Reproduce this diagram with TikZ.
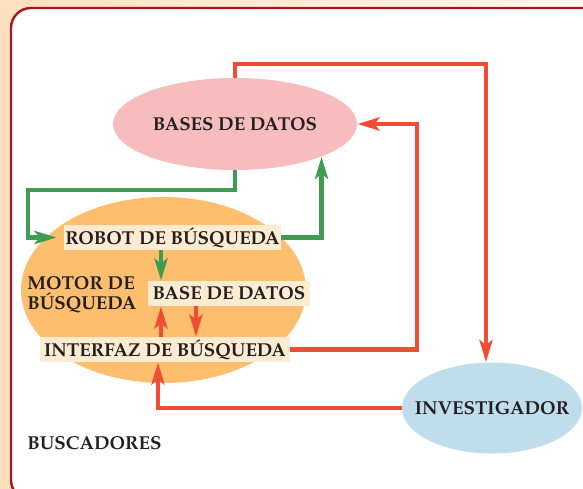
\documentclass[tikz,border=0pt]{standalone}
\usepackage{fontspec}
\setmainfont{texgyrepagella}[Extension=.otf,UprightFont=*-regular,BoldFont=*-bold]
\usetikzlibrary{shapes.geometric,arrows.meta}
\definecolor{bgleft}{RGB}{253,224,190}
\definecolor{bgright}{RGB}{255,248,240}
\definecolor{frame}{RGB}{163,25,30}
\definecolor{pinkfill}{RGB}{247,188,190}
\definecolor{motorfill}{RGB}{253,190,110}
\definecolor{bluefill}{RGB}{191,221,234}
\definecolor{boxfill}{RGB}{253,235,210}
\definecolor{redarrow}{RGB}{239,77,53}
\definecolor{greenarrow}{RGB}{63,156,82}
\definecolor{ink}{RGB}{35,31,32}

\begin{document}
\begin{tikzpicture}[x=0.5pt,y=-0.5pt,
  lbl/.style={font=\fontsize{9.35}{10}\selectfont\bfseries,text=ink},
  elli/.style={ellipse,inner sep=0pt,lbl},
  box/.style={fill=boxfill,inner sep=0pt,minimum height=12.5pt,lbl},
  red link/.style={line width=2.2pt,draw=redarrow,-{Stealth[length=11pt,width=6.5pt,inset=2.5pt]}},
  green link/.style={line width=2.2pt,draw=greenarrow,-{Stealth[length=11pt,width=6.5pt,inset=2.5pt]}}]
  \useasboundingbox (0,0) rectangle (583,488);
  \shade[left color=bgleft,right color=bgright] (0,0) rectangle (583,488);
  \draw[line width=1.2pt,draw=frame,fill=white,rounded corners=10pt] (11,8) rectangle (640,500);

  % ellipses
  \node[elli,fill=pinkfill,minimum width=122pt,minimum height=46pt] (bases) at (235,124) {};
  \node[lbl] (basestxt) at (bases) {BASES DE DATOS};
  \node[elli,fill=motorfill,minimum width=142.5pt,minimum height=93pt] (motor) at (163.5,290) {};
  \node[elli,fill=bluefill,minimum width=90pt,minimum height=45.5pt] (inv) at (492,408) {};
  \node[lbl] (invtxt) at (inv) {INVESTIGADOR};

  % boxes inside the motor
  \node[box,minimum width=108.5pt] (robot) at (172.5,237.5) {ROBOT DE BÚSQUEDA};
  \node[box,minimum width=81pt] (basedatos) at (229,293.5) {BASE DE DATOS};
  \node[box,minimum width=125pt] (interfaz) at (165,349.5) {INTERFAZ DE BÚSQUEDA};
  \node[lbl,anchor=west,align=left,inner sep=0pt] (motortxt) at (27,295) {MOTOR DE\\BÚSQUEDA};
  \node[lbl,anchor=west,inner sep=0pt] (buscadores) at (27,443) {BUSCADORES};

  \coordinate (gleft) at (28,190);
  \coordinate (rtop) at (300,64);
  \coordinate (rright) at (417,0);
  \coordinate (cl) at (161,0);
  \coordinate (cr) at (196,0);

  % green links
  \draw[green link,shorten >=3.5pt] (bases.south) |- (gleft) |- (robot.west);
  \draw[green link] (robot.east) -| (bases.south east);
  \draw[green link] (cl |- robot.south) -- (cl |- basedatos.north);

  % red links
  \draw[red link] (cr |- basedatos.south) -- (cr |- interfaz.north);
  \draw[red link] (cl |- interfaz.north) -- (cl |- basedatos.south);
  \draw[red link] (interfaz.east) -| (rright |- bases.east) -- (bases.east);
  \draw[red link] (bases.north) |- (rtop) -| ([xshift=-3pt]inv.north);
  \draw[red link] (inv.west) -| ([xshift=-3.5pt]interfaz.south);
\end{tikzpicture}
\end{document}
